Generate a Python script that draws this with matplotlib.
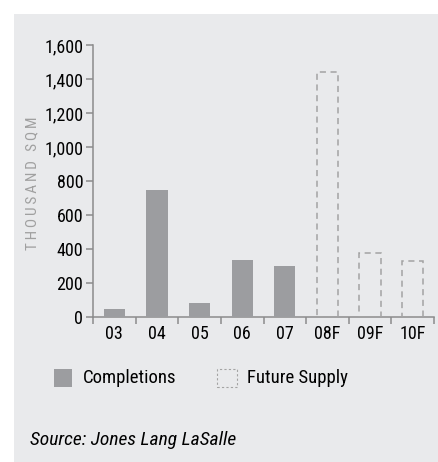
import matplotlib
matplotlib.use("Agg")
from matplotlib import pyplot as plt
from matplotlib.patches import Rectangle
import numpy as np

years = ["03", "04", "05", "06", "07", "08F", "09F", "10F"]
completions = [50, 750, 80, 335, 300]
future_supply = [1440, 375, 330]
y_ticks = [0, 200, 400, 600, 800, 1000, 1200, 1400, 1600]

cond = ["Roboto Condensed", "DejaVu Sans"]
bar_grey = "#9c9da0"
line_grey = "#8c8c8c"
panel = "#e9eaec"

W, H = 438, 462
fig = plt.figure(figsize=(W / 100, H / 100), dpi=100)
fig.patch.set_facecolor("white")
fig.patches.append(Rectangle((14 / W, 0), 1, 1 - 14 / H, transform=fig.transFigure,
                             facecolor=panel, edgecolor="none", zorder=-5))

ax = fig.add_axes([93 / W, 1 - 317 / H, 341 / W, 272 / H])
ax.set_facecolor("none")

x = np.arange(len(years))
n_done = len(completions)
ax.bar(x[:n_done], completions, 0.5, color=bar_grey, zorder=3)
ax.bar(x[n_done:], future_supply, 0.5, facecolor="none", edgecolor="#a3a3a3",
       linestyle=(0, (4, 3)), linewidth=1.1, zorder=3)

ax.set_xlim(-0.5, len(years) - 0.5)
ax.set_ylim(0, 1600)
ax.set_yticks(y_ticks)
ax.set_yticklabels([f"{v:,}" for v in y_ticks], family=cond, fontsize=13)
ax.set_xticks(x)
ax.set_xticklabels(years, family=cond, fontsize=13)
ax.set_xticks(np.arange(len(years) + 1) - 0.5, minor=True)
ax.tick_params(axis="x", which="major", length=0, pad=6)
ax.tick_params(axis="x", which="minor", length=5, width=1.1, color=line_grey)
ax.tick_params(axis="y", length=5, width=1.1, color=line_grey, pad=2)

for side in ["top", "right"]:
    ax.spines[side].set_visible(False)
for side in ["left", "bottom"]:
    ax.spines[side].set_color(line_grey)
    ax.spines[side].set_linewidth(1.1)

# spaced-out axis title
fig.text(32 / W, 1 - 183 / H, "\u2009".join("THOUSAND SQM"), rotation=90, ha="center",
         va="center", color="#a0a0a0", fontsize=11, family=cond)

# legend drawn by hand below the axis
fig.patches.append(Rectangle((54 / W, 1 - 387 / H), 18 / W, 18 / H, transform=fig.transFigure,
                             facecolor=bar_grey, edgecolor="none"))
fig.text(83 / W, 1 - 378 / H, "Completions", va="center", fontsize=13.5, family=cond)
fig.patches.append(Rectangle((217 / W, 1 - 387 / H), 20 / W, 18 / H, transform=fig.transFigure,
                             facecolor="none", edgecolor="#a3a3a3", linestyle=(0, (2, 2)),
                             linewidth=0.8))
fig.text(247 / W, 1 - 378 / H, "Future Supply", va="center", fontsize=13.5, family=cond)

fig.text(30 / W, 1 - 440 / H, "Source: Jones Lang LaSalle", va="center", fontsize=14,
         style="italic", family=cond)

fig.savefig("out.png", dpi=100)
